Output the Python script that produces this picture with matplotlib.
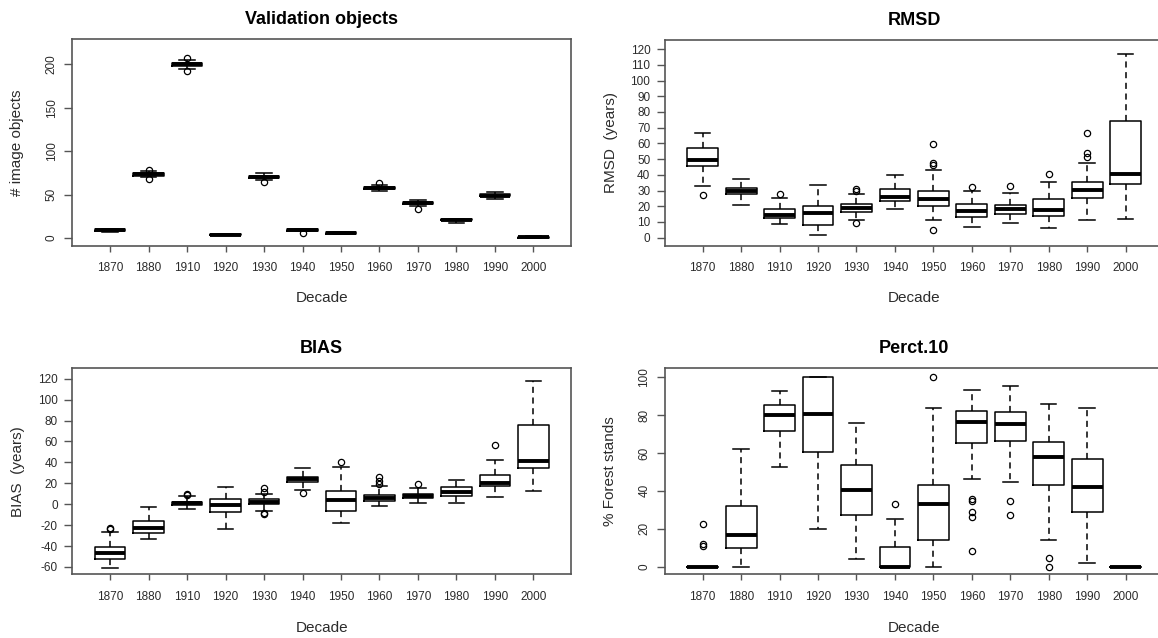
import matplotlib
matplotlib.use('Agg')
import matplotlib.pyplot as plt

plt.rcParams['font.family'] = ['Liberation Sans', 'DejaVu Sans']

decades = ['1870', '1880', '1910', '1920', '1930', '1940', '1950', '1960', '1970', '1980', '1990', '2000']

# ---- Validation objects (# image objects)
val_whislo = [7, 70, 195, 4, 67, 8, 5, 54, 37, 17, 45, 0]
val_q1 = [8, 72, 198, 4, 69, 8, 5, 56, 39, 21, 48, 0.5]
val_med = [9, 74, 200, 4, 70, 9, 6, 58, 40, 21, 49, 1]
val_q3 = [10, 75, 202, 5, 72, 10, 7, 59, 42, 22, 51, 1.5]
val_whishi = [10, 77, 205, 5, 75, 10, 7, 61, 44, 22, 53, 2]
val_fliers = [[], [79, 68], [208, 193], [], [65], [6], [], [63], [34], [], [], []]

# ---- RMSD (years)
rmsd_whislo = [32.7, 20.8, 8.5, 1.7, 11.1, 18.3, 11.1, 6.6, 9.2, 6.4, 11.0, 12.1]
rmsd_q1 = [45.6, 27.8, 12.7, 8.1, 16.3, 23.2, 20.2, 13.0, 15.3, 14.0, 25.0, 34.3]
rmsd_med = [49.6, 29.7, 14.2, 15.9, 19.1, 25.7, 24.4, 17.0, 18.0, 17.4, 30.1, 40.7]
rmsd_q3 = [56.9, 31.6, 18.4, 20.2, 21.6, 31.0, 29.5, 21.4, 21.0, 24.4, 35.6, 74.4]
rmsd_whishi = [66.4, 37.3, 25.3, 33.3, 27.6, 39.9, 43.3, 29.5, 28.4, 35.6, 47.3, 116.7]
rmsd_fliers = [[27.4], [], [27.8], [], [29.5, 31.2, 9.4], [], [46.0, 47.3, 59.8, 4.7],
               [32.0], [33.0], [40.5], [51.5, 53.7, 66.4], []]

# ---- BIAS (years)
bias_whislo = [-60.7, -33.3, -4.9, -23.4, -6.2, 13.5, -18.0, -1.4, 1.1, 0.8, 6.6, 12.6]
bias_q1 = [-52.4, -27.8, -0.5, -7.8, -0.1, 20.9, -6.2, 3.3, 5.9, 8.1, 17.1, 34.9]
bias_med = [-46.4, -22.5, 1.0, -1.0, 2.4, 23.8, 4.0, 6.2, 7.8, 12.0, 20.3, 41.6]
bias_q3 = [-41.2, -16.1, 2.5, 4.7, 4.7, 26.3, 12.6, 8.8, 9.8, 16.4, 27.6, 75.7]
bias_whishi = [-26.3, -2.4, 7.5, 16.4, 9.8, 34.9, 35.9, 17.1, 15.8, 23.1, 42.5, 118.0]
bias_fliers = [[-22.5, -24.0], [], [9.5, 8.5], [], [15.8, 11.4, -8.1, -9.7], [11.0],
               [40.6], [19.3, 22.5, 25.7], [19.0], [], [56.3], []]

# ---- Perct.10 (% Forest stands)
p10_whislo = [0, 0, 52.6, 19.9, 4.1, 0, 0, 46.2, 44.5, 13.9, 2.1, 0]
p10_q1 = [0, 9.7, 71.5, 60.5, 27.1, 0, 14.2, 65.0, 66.1, 42.9, 29.0, 0]
p10_med = [0, 16.9, 79.8, 80.5, 40.4, 0, 33.0, 76.3, 75.2, 57.7, 42.0, 0]
p10_q3 = [0, 32.2, 85.4, 100, 53.8, 10.2, 42.9, 81.9, 81.4, 65.9, 56.6, 0]
p10_whishi = [0, 62.0, 92.5, 100, 75.7, 25.0, 83.5, 93.0, 95.1, 85.9, 83.5, 0]
p10_fliers = [[22.5, 12.0, 11.0], [], [], [], [], [33.0], [100.0],
              [35.5, 34.5, 29.0, 26.2, 8.1], [34.8, 27.3], [4.7, 0.0], [], []]


def make_stats(lo, q1, med, q3, hi, fl):
    return [dict(whislo=a, q1=b, med=c, q3=d, whishi=e, fliers=f)
            for a, b, c, d, e, f in zip(lo, q1, med, q3, hi, fl)]


W, H = 1158, 638
fig = plt.figure(figsize=(W / 100, H / 100), dpi=100)
fig.patch.set_facecolor('white')

TXT = '#2b2b2b'
SPINE = '#555555'

panels = [
    dict(rect=(72.3, 571.2, 39.5, 245.7),
         stats=make_stats(val_whislo, val_q1, val_med, val_q3, val_whishi, val_fliers),
         title='Validation objects', ylabel='# image objects', ylim=(-8.8, 228.8),
         yticks=[0, 50, 100, 150, 200], rot=True, ylabx=17, xlaby=298),
    dict(rect=(665.0, 1163.3, 40.0, 245.7),
         stats=make_stats(rmsd_whislo, rmsd_q1, rmsd_med, rmsd_q3, rmsd_whishi, rmsd_fliers),
         title='RMSD', ylabel='RMSD  (years)', ylim=(-5.1, 125.8),
         yticks=list(range(0, 121, 10)), rot=False, ylabx=611, xlaby=298),
    dict(rect=(72.3, 571.2, 368.3, 574.3),
         stats=make_stats(bias_whislo, bias_q1, bias_med, bias_q3, bias_whishi, bias_fliers),
         title='BIAS', ylabel='BIAS  (years)', ylim=(-67.0, 130.0),
         yticks=list(range(-60, 121, 20)), rot=False, ylabx=18, xlaby=628),
    dict(rect=(665.0, 1163.3, 368.3, 574.3),
         stats=make_stats(p10_whislo, p10_q1, p10_med, p10_q3, p10_whishi, p10_fliers),
         title='Perct.10', ylabel='% Forest stands', ylim=(-4.0, 104.6),
         yticks=[0, 20, 40, 60, 80, 100], rot=True, ylabx=610, xlaby=628),
]

positions = list(range(1, len(decades) + 1))

for p in panels:
    l, r, t, b = p['rect']
    ax = fig.add_axes([l / W, 1 - b / H, (r - l) / W, (b - t) / H])
    ax.bxp(p['stats'], positions=positions, widths=0.8, capwidths=0.4,
           showfliers=True, patch_artist=False,
           boxprops=dict(color='black', lw=1.1),
           whiskerprops=dict(color='black', lw=1.1, linestyle=(0, (4, 3))),
           capprops=dict(color='black', lw=1.1),
           medianprops=dict(color='black', lw=2.8, solid_capstyle='butt'),
           flierprops=dict(marker='o', markerfacecolor='none', markeredgecolor='black',
                           markersize=4.5, markeredgewidth=0.9, linestyle='none'))
    ax.set_xlim(0.02, 12.98)
    ax.set_ylim(*p['ylim'])
    ax.set_xticks(positions)
    ax.set_xticklabels(decades)
    ax.set_yticks(p['yticks'])
    ax.set_yticklabels([str(v) for v in p['yticks']])
    for s in ax.spines.values():
        s.set_color(SPINE)
        s.set_linewidth(1.2)
    ax.tick_params(axis='x', length=4, width=1, color=SPINE, pad=8,
                   labelsize=8.5, labelcolor=TXT)
    ax.tick_params(axis='y', length=5.5, width=1, color=SPINE, pad=5,
                   labelsize=8.5, labelcolor=TXT)
    if p['rot']:
        for lab in ax.get_yticklabels():
            lab.set_rotation(90)
            lab.set_va('center')
            lab.set_ha('right')
    ax.set_title(p['title'], fontsize=13, fontweight='bold', color='black', pad=11)
    ax.set_xlabel('Decade', fontsize=11, color=TXT)
    ax.set_ylabel(p['ylabel'], fontsize=11, color=TXT)
    ax.xaxis.set_label_coords(((l + r) / 2 - l) / (r - l), (b - p['xlaby']) / (b - t))
    ax.xaxis.label.set_va('center')
    ax.yaxis.set_label_coords((p['ylabx'] - l) / (r - l), 0.5)
    ax.yaxis.label.set_va('center')

fig.savefig('out.png', dpi=100, facecolor='white')
